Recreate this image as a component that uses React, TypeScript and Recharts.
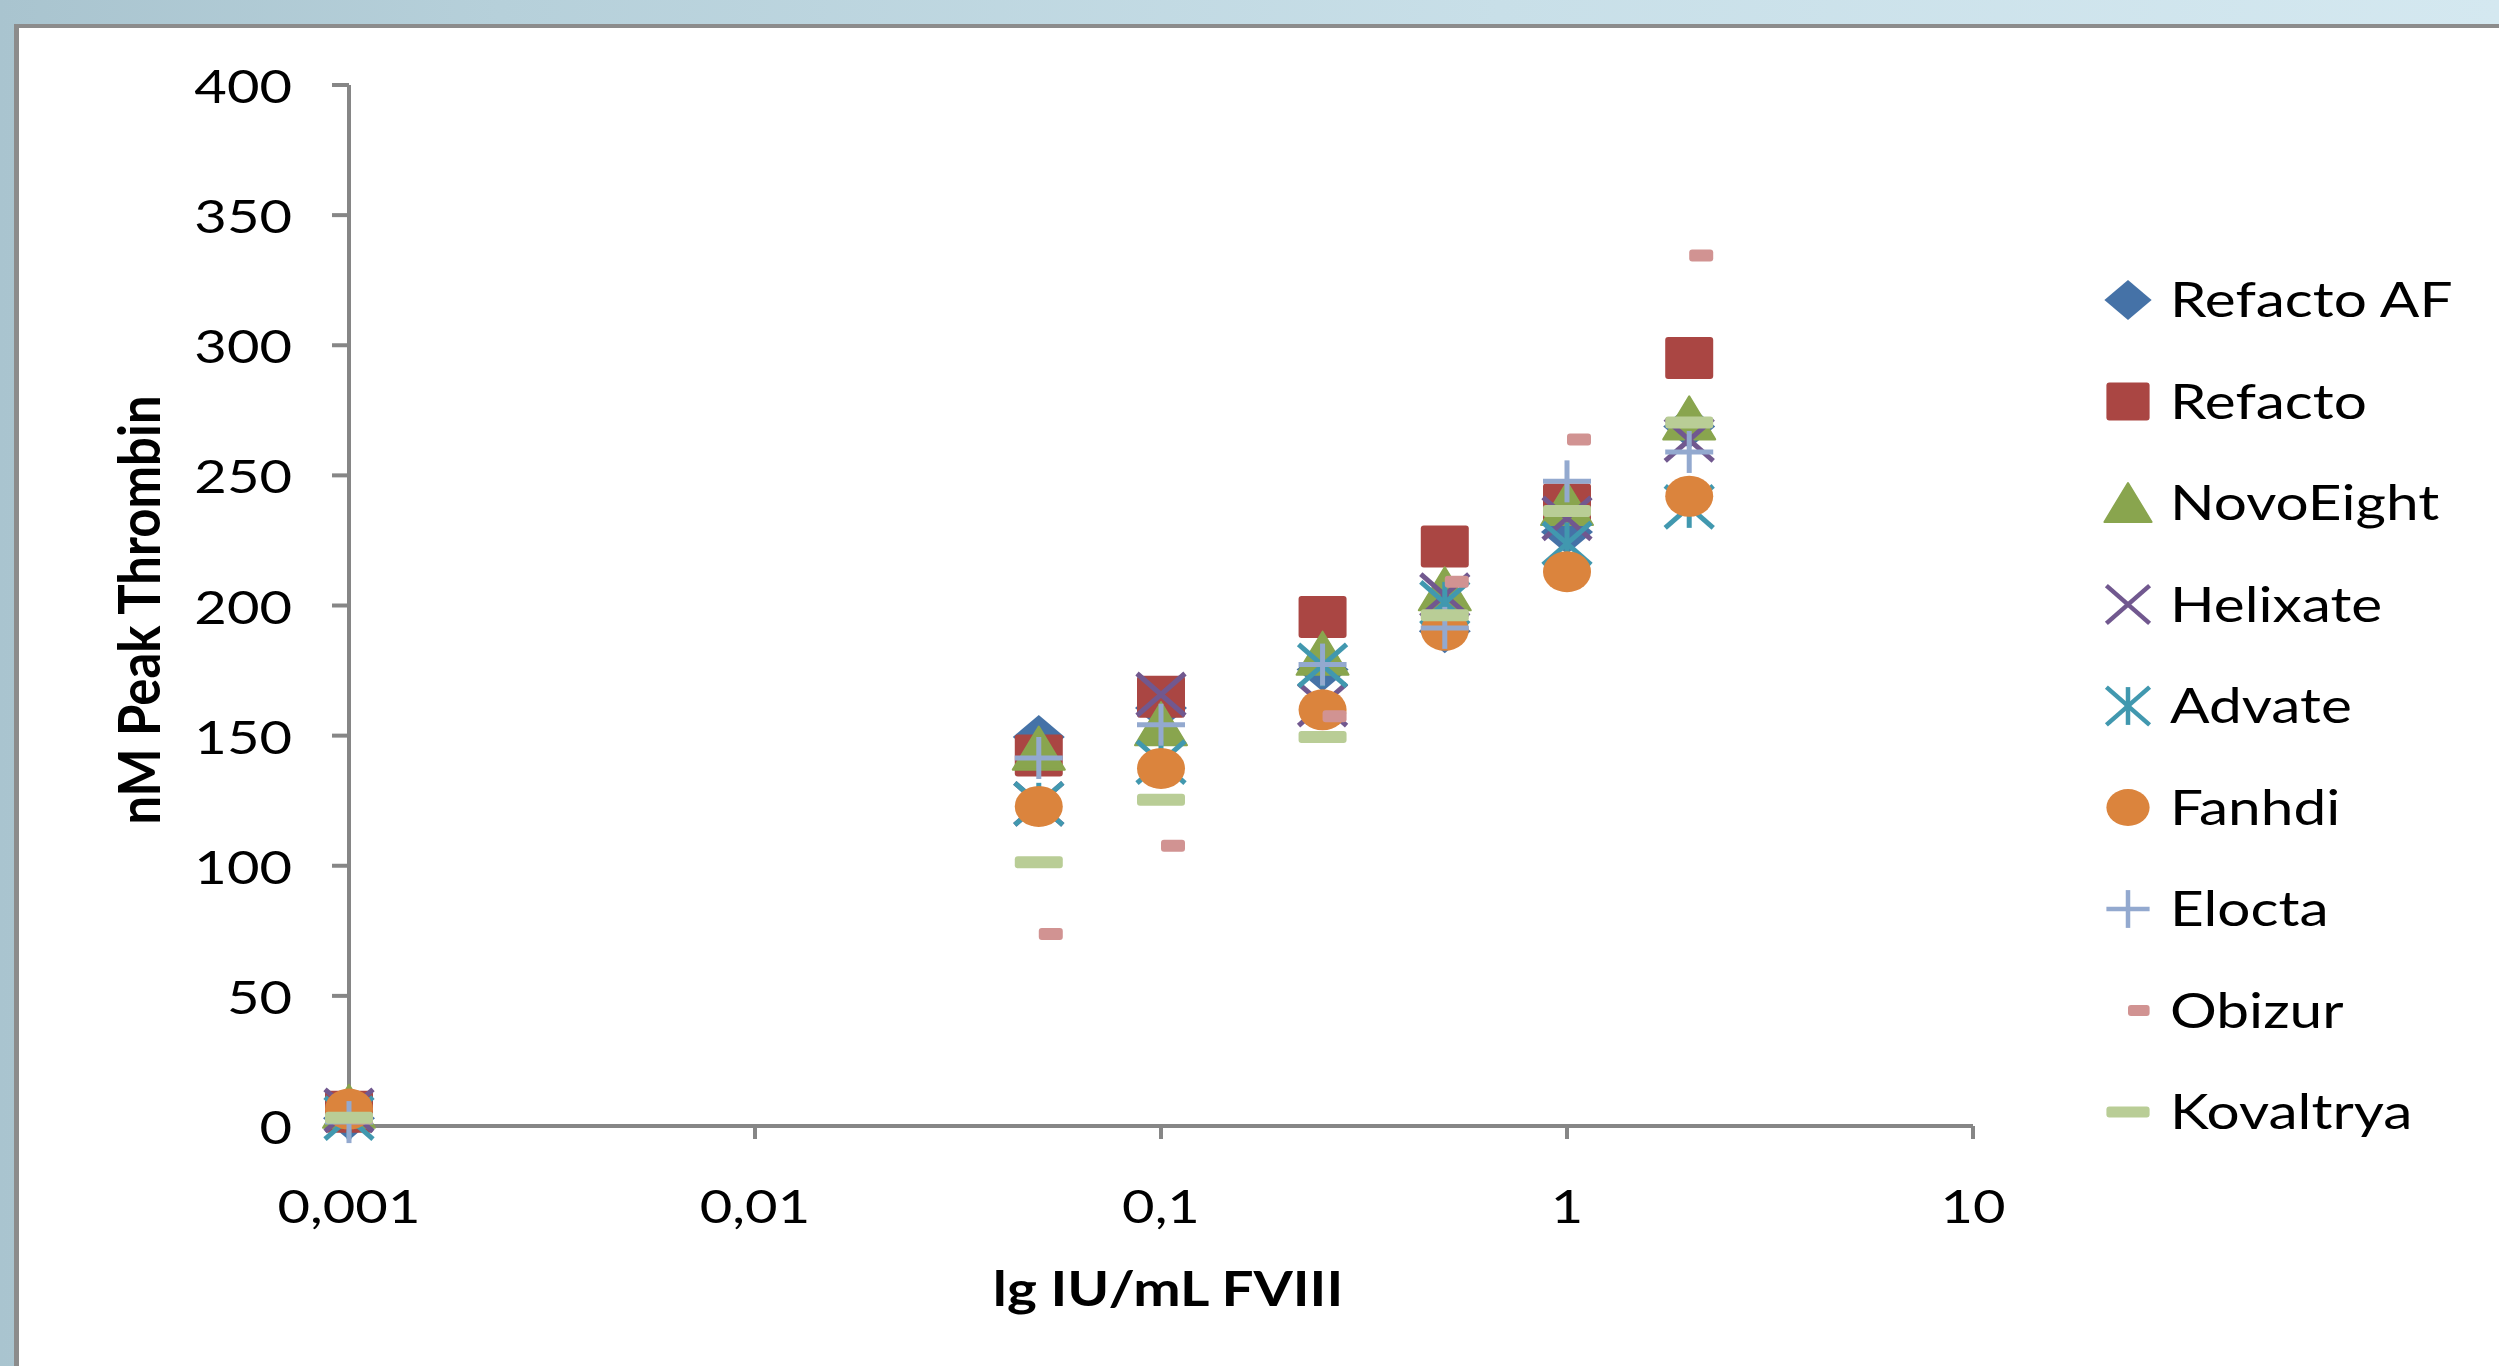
import React from 'react';
import { Scatter, ScatterChart, XAxis, YAxis } from 'recharts';

// dose levels (IU/mL FVIII)
const doses = [0.001, 0.05, 0.1, 0.25, 0.5, 1, 2];

// nM peak thrombin per product
const refactoAF = [3, 149.5, 160.6, 175.4, 190.1, 228.2, 268.8];
const refacto = [5.5, 142.4, 164.9, 195.6, 222.7, 238.8, 295.1];
const novoEight = [7.4, 145, 154.4, 181.5, 206.2, 239, 271.9];
const helixate = [6, 123.8, 165.8, 161.9, 204, 233.5, 263.6];
const advate = [3, 123.8, 139.8, 177, 201, 223.8, 237.9];
const fanhdi = [6.5, 122.8, 137.4, 159.9, 190.5, 213, 242];
const elocta = [1.5, 141.4, 154.2, 177.3, 191.4, 247.7, 259];
const obizur = [3, 73.8, 107.7, 157.4, 209.1, 263.8, 334.5];
const kovaltrya = [3.2, 101.3, 125.4, 149.5, 196.3, 236.3, 270.3];

const xTicks = [0.001, 0.01, 0.1, 1, 10];
const xTickLabels = ['0,001', '0,01', '0,1', '1', '10'];
const yTicks = [0, 50, 100, 150, 200, 250, 300, 350, 400];

const series = [
  { name: 'Refacto AF', values: refactoAF, color: '#4572A7', marker: 'diamond' },
  { name: 'Refacto', values: refacto, color: '#AA4643', marker: 'square' },
  { name: 'NovoEight', values: novoEight, color: '#89A54E', marker: 'triangle' },
  { name: 'Helixate', values: helixate, color: '#71588F', marker: 'x' },
  { name: 'Advate', values: advate, color: '#4198AF', marker: 'star' },
  { name: 'Fanhdi', values: fanhdi, color: '#DB843D', marker: 'circle' },
  { name: 'Elocta', values: elocta, color: '#93A9CF', marker: 'plus' },
  { name: 'Obizur', values: obizur, color: '#D19392', marker: 'short' },
  { name: 'Kovaltrya', values: kovaltrya, color: '#B9CD96', marker: 'long' },
];

const FONT = 'Lato, "Open Sans", sans-serif';
const SX = 1.22; // the original is stretched sideways
const AXIS = '#868686';

function Marker({ kind, color, cx, cy, k = 1 }: any) {
  const w = 24 * k;
  const h = 21 * k;
  const sw = 5 * k;
  switch (kind) {
    case 'diamond':
      return <polygon points={`${cx},${cy - h - 1} ${cx + w + 2},${cy} ${cx},${cy + h + 1} ${cx - w - 2},${cy}`} fill={color} />;
    case 'square':
      return <rect x={cx - w} y={cy - h} width={2 * w} height={2 * h} rx={3} fill={color} />;
    case 'triangle':
      return <polygon points={`${cx},${cy - h - 1} ${cx + w + 2},${cy + h} ${cx - w - 2},${cy + h}`} fill={color} strokeLinejoin="round" stroke={color} strokeWidth={2} />;
    case 'x':
      return (
        <g stroke={color} strokeWidth={sw}>
          <line x1={cx - w} y1={cy - h} x2={cx + w} y2={cy + h} />
          <line x1={cx - w} y1={cy + h} x2={cx + w} y2={cy - h} />
        </g>
      );
    case 'star':
      return (
        <g stroke={color} strokeWidth={sw}>
          <line x1={cx - w} y1={cy - h} x2={cx + w} y2={cy + h} />
          <line x1={cx - w} y1={cy + h} x2={cx + w} y2={cy - h} />
          <line x1={cx} y1={cy - h} x2={cx} y2={cy + h} />
        </g>
      );
    case 'circle':
      return <ellipse cx={cx} cy={cy} rx={w} ry={h - 0.5} fill={color} />;
    case 'plus':
      return (
        <g stroke={color} strokeWidth={sw}>
          <line x1={cx - w} y1={cy} x2={cx + w} y2={cy} />
          <line x1={cx} y1={cy - h} x2={cx} y2={cy + h} />
        </g>
      );
    case 'short':
      return <rect x={cx} y={cy - 6 * k} width={w} height={12 * k} rx={3} fill={color} />;
    case 'long':
      return <rect x={cx - w} y={cy - 6 * k} width={2 * w} height={12 * k} rx={3} fill={color} />;
    default:
      return null;
  }
}

const YTick = ({ x, y, payload }: any) => (
  <g transform={`translate(${x},${y}) scale(${SX},1)`}>
    <text x={0} y={0} dy={18} textAnchor="end" fontFamily={FONT} fontSize={46} fill="#000">
      {payload.value}
    </text>
  </g>
);

const XTick = ({ x, y, payload }: any) => (
  <g transform={`translate(${x},${y}) scale(${SX},1)`}>
    <text x={0} y={0} dy={35} textAnchor="middle" fontFamily={FONT} fontSize={46} fill="#000">
      {xTickLabels[xTicks.indexOf(payload.value)] ?? payload.value}
    </text>
  </g>
);

const XTitle = () => (
  <g transform={`translate(1168,1306) scale(1.18,1)`}>
    <text textAnchor="middle" fontFamily={FONT} fontWeight={700} fontSize={48} fill="#000">
      lg IU/mL FVIII
    </text>
  </g>
);

const YTitle = () => (
  <g transform={`translate(160,610) rotate(-90) scale(1.06,1.18)`}>
    <text textAnchor="middle" fontFamily={FONT} fontWeight={700} fontSize={48} fill="#000">
      nM Peak Thrombin
    </text>
  </g>
);

function ChartLegend() {
  return (
    <svg width={2499} height={1366} style={{ position: 'absolute', left: 0, top: 0, pointerEvents: 'none' }}>
      {series.map((s, i) => {
        const cy = 300 + i * 101.5;
        return (
          <g key={s.name}>
            <Marker kind={s.marker} color={s.color} cx={2128} cy={cy} k={0.9} />
            <g transform={`translate(2170,${cy + 17}) scale(${SX},1)`}>
              <text fontFamily={FONT} fontSize={48} fill="#000">
                {s.name}
              </text>
            </g>
          </g>
        );
      })}
    </svg>
  );
}

export default function App() {
  return (
    <div
      style={{
        position: 'absolute',
        left: 0,
        top: 0,
        width: 2499,
        height: 1366,
        overflow: 'hidden',
        background: 'linear-gradient(90deg, #a9c4cf 0%, #b6d0da 20%, #c8dfe8 60%, #d4e8f0 100%)',
      }}
    >
      <div
        style={{
          position: 'absolute',
          left: 14,
          top: 24,
          right: 0,
          bottom: 0,
          background: '#fff',
          borderLeft: '5px solid #8c8c8c',
          borderTop: '4px solid #8c8c8c',
        }}
      />
      <div style={{ position: 'absolute', left: 0, top: 0 }}>
        <ScatterChart width={2499} height={1366} margin={{ top: 85, right: 526, bottom: 120, left: 99 }}>
          <XAxis
            type="number"
            dataKey="x"
            scale="log"
            domain={[0.001, 10]}
            ticks={xTicks}
            height={120}
            tickSize={13}
            tickMargin={49}
            tick={<XTick />}
            axisLine={{ stroke: AXIS, strokeWidth: 4 }}
            tickLine={{ stroke: AXIS, strokeWidth: 4 }}
            label={XTitle}
          />
          <YAxis
            type="number"
            dataKey="y"
            domain={[0, 400]}
            ticks={yTicks}
            width={250}
            tickSize={17}
            tickMargin={40}
            tick={<YTick />}
            axisLine={{ stroke: AXIS, strokeWidth: 4 }}
            tickLine={{ stroke: AXIS, strokeWidth: 4 }}
            label={YTitle}
          />
          {series.map((s) => (
            <Scatter
              key={s.name}
              name={s.name}
              data={s.values.map((v, i) => ({ x: doses[i], y: v }))}
              fill={s.color}
              isAnimationActive={false}
              shape={(p: any) => <Marker kind={s.marker} color={s.color} cx={p.cx} cy={p.cy} />}
            />
          ))}
        </ScatterChart>
      </div>
      <ChartLegend />
    </div>
  );
}
